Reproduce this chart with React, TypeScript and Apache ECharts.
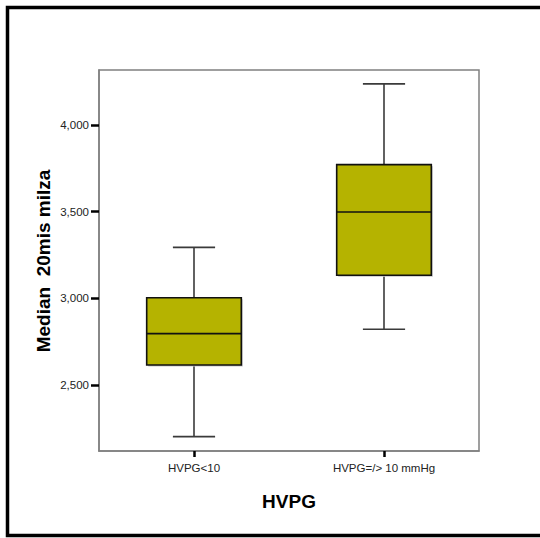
import React, { useEffect, useRef } from "react";
import * as echarts from "echarts";

const categories = ["HVPG<10", "HVPG=/> 10 mmHg"];
const mins = [2202, 2821];
const q1s = [2615, 3133];
const medians = [2796, 3498];
const q3s = [3003, 3771];
const maxs = [3294, 4237];
const yTicks = [2500, 3000, 3500, 4000];
const yMin = 2119;
const yMax = 4317;

export default function App() {
  const ref = useRef<HTMLDivElement>(null);
  useEffect(() => {
    if (!ref.current) return;
    const chart = echarts.init(ref.current, null, { renderer: "svg" });
    const data = categories.map((_, i) => [i, mins[i], q1s[i], medians[i], q3s[i], maxs[i]]);
    const font = "'Liberation Sans', Arial, sans-serif";
    chart.setOption({
      animation: false,
      backgroundColor: "#ffffff",
      grid: {
        left: 99,
        top: 70,
        right: 61,
        bottom: 87,
        show: true,
        borderColor: "#808080",
        borderWidth: 1.5,
        containLabel: false,
      },
      xAxis: {
        type: "category",
        data: categories,
        boundaryGap: true,
        axisLine: { show: true, lineStyle: { color: "#808080", width: 1.5 } },
        axisTick: { show: true, alignWithLabel: true, length: 6, lineStyle: { color: "#000", width: 2.5 } },
        axisLabel: { color: "#222", fontFamily: font, fontSize: 11.5, margin: 11 },
        splitLine: { show: false },
      },
      yAxis: {
        type: "value",
        min: yMin,
        max: yMax,
        axisLine: { show: true, lineStyle: { color: "#808080", width: 1.5 } },
        axisTick: { show: true, length: 8, customValues: yTicks, lineStyle: { color: "#000", width: 2.5 } },
        axisLabel: {
          customValues: yTicks,
          color: "#222",
          fontFamily: font,
          fontSize: 11.5,
          margin: 10,
          formatter: (v: number) => v.toLocaleString("en-US"),
        },
        splitLine: { show: false },
      },
      series: [
        {
          type: "custom",
          data,
          renderItem: (params: any, api: any) => {
            const x = api.value(0);
            const band = api.size([1, 0])[0];
            const half = band * 0.249;
            const capHalf = band * 0.111;
            const pMin = api.coord([x, api.value(1)]);
            const pQ1 = api.coord([x, api.value(2)]);
            const pMed = api.coord([x, api.value(3)]);
            const pQ3 = api.coord([x, api.value(4)]);
            const pMax = api.coord([x, api.value(5)]);
            const cx = pMed[0];
            const wStyle = { stroke: "#3a3a3a", lineWidth: 1.6 };
            return {
              type: "group",
              children: [
                { type: "line", shape: { x1: cx, y1: pMax[1], x2: cx, y2: pQ3[1] }, style: wStyle },
                { type: "line", shape: { x1: cx, y1: pQ1[1], x2: cx, y2: pMin[1] }, style: wStyle },
                { type: "line", shape: { x1: cx - capHalf, y1: pMax[1], x2: cx + capHalf, y2: pMax[1] }, style: wStyle },
                { type: "line", shape: { x1: cx - capHalf, y1: pMin[1], x2: cx + capHalf, y2: pMin[1] }, style: wStyle },
                {
                  type: "rect",
                  shape: { x: cx - half + 1.5, y: pQ3[1] + 1.5, width: half * 2, height: pQ1[1] - pQ3[1] },
                  style: { fill: "#c8c8c8", stroke: null },
                },
                {
                  type: "rect",
                  shape: { x: cx - half, y: pQ3[1], width: half * 2, height: pQ1[1] - pQ3[1] },
                  style: { fill: "#b5b300", stroke: "#111", lineWidth: 1.6 },
                },
                { type: "line", shape: { x1: cx - half, y1: pMed[1], x2: cx + half, y2: pMed[1] }, style: { stroke: "#111", lineWidth: 1.6 } },
              ],
            };
          },
        },
      ],
      graphic: [
        {
          type: "rect",
          shape: { x: 7.5, y: 7.5, width: 560, height: 528 },
          style: { fill: "none", stroke: "#000", lineWidth: 3.5 },
          silent: true,
        },
        {
          type: "text",
          x: 43,
          y: 261,
          rotation: Math.PI / 2,
          style: {
            text: "Median  20mis milza",
            font: `bold 19px ${font}`,
            fill: "#000",
            textAlign: "center",
            textVerticalAlign: "middle",
          },
        },
        {
          type: "text",
          x: 289,
          y: 501,
          style: {
            text: "HVPG",
            font: `bold 19px ${font}`,
            fill: "#000",
            textAlign: "center",
            textVerticalAlign: "middle",
          },
        },
      ],
    });
    return () => chart.dispose();
  }, []);
  return (
    <div
      ref={ref}
      style={{ position: "fixed", left: 0, top: 0, width: 540, height: 538, background: "#fff" }}
    />
  );
}
